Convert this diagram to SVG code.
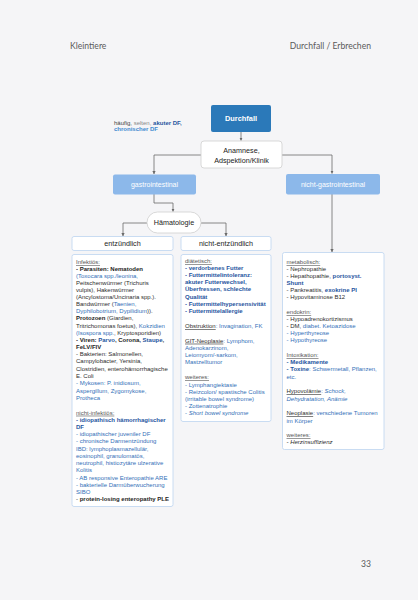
<svg xmlns="http://www.w3.org/2000/svg" width="418" height="600" viewBox="0 0 418 600">
<style>
text{font-family:"Liberation Sans",Arial,sans-serif;}
.pg{font-family:Lato,"Open Sans",sans-serif;font-size:8.6px;fill:#5a5a5a;}
.t{font-size:6px;fill:#2e2e2e;}
.lbl{font-size:7.2px;fill:#222;text-anchor:middle;}
.wl{font-size:7px;fill:#ffffff;text-anchor:middle;}
.h{fill:#555;text-decoration:underline;}
.u{text-decoration:underline;}
.b{font-weight:bold;fill:#1e1e1e;}
.bl{fill:#3370b8;}
.bb{fill:#1f55a0;font-weight:bold;}
.lb{fill:#3f8ad0;font-weight:bold;}
.i{font-style:italic;}
.g{fill:#666;}
.box{fill:#ffffff;stroke:#bcd4f0;stroke-width:0.8;}
.gbox{fill:#ffffff;stroke:#cfcfcf;stroke-width:0.8;}
.lblue{fill:#8cb8ea;}
.con{fill:none;stroke:#6a6a6a;stroke-width:0.8;marker-end:url(#ah);}
</style>
<defs>
<marker id="ah" viewBox="0 0 6 6" refX="5.5" refY="3" markerWidth="4" markerHeight="4" orient="auto">
<path d="M0,0 L6,3 L0,6 z" fill="#6a6a6a"/>
</marker>
</defs>
<rect x="0" y="0" width="418" height="600" fill="#f5f5f7"/>

<g id="header">
<text class="pg" x="70" y="49">Kleintiere</text>
<text class="pg" x="371" y="49" text-anchor="end">Durchfall / Erbrechen</text>
<text class="pg" x="371" y="567" text-anchor="end">33</text>
</g>

<g id="legend">
<text class="t" x="114" y="124.5"><tspan fill="#444">häufig, </tspan><tspan fill="#888">selten, </tspan><tspan class="bb">akuter DF,</tspan></text>
<text class="t" x="114" y="131"><tspan class="lb">chronischer DF</tspan></text>
</g>

<g id="connectors">
<path class="con" d="M241,132 V140.5"/>
<path class="con" d="M201,155 H154 V174"/>
<path class="con" d="M282,155 H332 V173.5"/>
<path class="con" d="M154,194 V203 H173 V211.5"/>
<path class="con" d="M147,223 H123 V236"/>
<path class="con" d="M201,223 H226 V236"/>
<path class="con" d="M332,194 V252"/>
</g>

<g id="node-durchfall">
<rect x="211" y="105" width="60" height="27" rx="2" fill="#2b79b9"/>
<text x="241" y="121" font-size="7.4" font-weight="bold" fill="#ffffff" text-anchor="middle">Durchfall</text>
</g>

<g id="node-anamnese">
<rect class="gbox" x="201" y="141" width="81" height="27" rx="3"/>
<text class="lbl" x="241.5" y="153">Anamnese,</text>
<text class="lbl" x="241.5" y="163">Adspektion/Klinik</text>
</g>

<g id="node-gastro">
<rect class="lblue" x="113" y="174.5" width="83" height="20" rx="2"/>
<text class="wl" x="154.5" y="187">gastrointestinal</text>
</g>

<g id="node-nichtgastro">
<rect class="lblue" x="286" y="174" width="94" height="20.5" rx="2"/>
<text class="wl" x="333" y="186.5">nicht-gastrointestinal</text>
</g>

<g id="node-haematologie">
<rect class="gbox" x="147" y="212" width="54" height="21" rx="10.5"/>
<text class="lbl" x="174" y="225">Hämatologie</text>
</g>

<g id="node-entzuendlich">
<rect class="box" x="72" y="236.5" width="101" height="14" rx="2"/>
<text class="lbl" x="122.5" y="246.2">entzündlich</text>
</g>

<g id="node-nichtentzuendlich">
<rect class="box" x="181" y="236.5" width="90" height="14" rx="2"/>
<text class="lbl" x="226" y="246.2">nicht-entzündlich</text>
</g>

<g id="node-entz-details">
<rect class="box" x="72" y="254.5" width="101" height="252" rx="2"/>
<text class="t">
<tspan x="76" y="264.3" class="h">Infektiös:</tspan>
<tspan x="76" y="271" class="b">- Parasiten: Nematoden</tspan>
<tspan x="76" y="277.8" class="bl">(Toxocara spp./leonina,</tspan>
<tspan x="76" y="284.8">Peitschenwürmer (Trichuris</tspan>
<tspan x="76" y="291.8">vulpis), Hakenwürmer</tspan>
<tspan x="76" y="298.8">(Ancylostoma/Uncinaria spp.).</tspan>
<tspan x="76" y="306">Bandwürmer (</tspan><tspan class="bl">Taenien,</tspan>
<tspan x="76" y="313.3" class="bl">Dyphilobotrium, Dypilidium</tspan><tspan>)).</tspan>
<tspan x="76" y="320.4" class="b">Protozoen</tspan><tspan> (Giardien,</tspan>
<tspan x="76" y="327.7">Tritrichomonas foetus), </tspan><tspan class="bl">Kokzidien</tspan>
<tspan x="76" y="334.8" class="bl">(Isospora spp.</tspan><tspan>, Kryptosporidien)</tspan>
<tspan x="76" y="342" class="b">- Viren: </tspan><tspan class="bb">Parvo</tspan><tspan class="b">, Corona, </tspan><tspan class="bb">Staupe</tspan><tspan class="b">,</tspan>
<tspan x="76" y="349" class="b">FeLV/FIV</tspan>
<tspan x="76" y="356.3">- Bakterien: Salmonellen,</tspan>
<tspan x="76" y="363.4">Campylobacter, Yersinia,</tspan>
<tspan x="76" y="370.7">Clostridien, enterohämorrhagische</tspan>
<tspan x="76" y="377.8">E. Coli</tspan>
<tspan x="76" y="385.3" class="bl">- Mykosen: P. inidiosum,</tspan>
<tspan x="76" y="392.7" class="bl">Aspergillum, Zygomykose,</tspan>
<tspan x="76" y="400" class="bl">Protheca</tspan>
<tspan x="76" y="414.7" class="h">nicht-infektiös:</tspan>
<tspan x="76" y="422" class="bb">- idiopathisch hämorrhagischer</tspan>
<tspan x="76" y="429" class="bb">DF</tspan>
<tspan x="76" y="436.3" class="bl">- idiopathischer juveniler DF</tspan>
<tspan x="76" y="443.4" class="bl">- chronische Darmentzündung</tspan>
<tspan x="76" y="450.7" class="bl">IBD: lymphoplasmazellulär,</tspan>
<tspan x="76" y="458" class="bl">eosinophil, granulomatös,</tspan>
<tspan x="76" y="465.3" class="bl">neutrophil, histiozytäre ulzerative</tspan>
<tspan x="76" y="472.4" class="bl">Kolitis</tspan>
<tspan x="76" y="479.7" class="bl">- AB responsive Enteropathie ARE</tspan>
<tspan x="76" y="487" class="bl">- bakterielle Darmüberwucherung</tspan>
<tspan x="76" y="494" class="bl">SIBO</tspan>
<tspan x="76" y="501.3">- </tspan><tspan class="b">protein-losing enteropathy PLE</tspan>
</text>
</g>

<g id="node-nichtentz-details">
<rect class="box" x="181" y="254.5" width="90" height="167" rx="2"/>
<text class="t">
<tspan x="185" y="263.2" class="h">diätetisch:</tspan>
<tspan x="185" y="270.2" class="bb">- verdorbenes Futter</tspan>
<tspan x="185" y="277.2" class="bb">- Futtermittelintoleranz:</tspan>
<tspan x="185" y="284.4" class="bb">akuter Futterwechsel,</tspan>
<tspan x="185" y="291.4" class="bb">Überfressen, schlechte</tspan>
<tspan x="185" y="298.7" class="bb">Qualität</tspan>
<tspan x="185" y="306" class="bb">- Futtermittelhypersensivität</tspan>
<tspan x="185" y="313.3" class="bb">- Futtermittelallergie</tspan>
<tspan x="185" y="328" class="u">Obstruktion</tspan><tspan class="bl">: Invagination, FK</tspan>
<tspan x="185" y="342.7" class="u">GIT-Neoplasie</tspan><tspan class="bl">: Lymphom,</tspan>
<tspan x="185" y="350" class="bl">Adenokarzinom,</tspan>
<tspan x="185" y="357.3" class="bl">Leiomyom/-sarkom,</tspan>
<tspan x="185" y="364.4" class="bl">Mastzelltumor</tspan>
<tspan x="185" y="379" class="h">weiteres:</tspan>
<tspan x="185" y="386.5" class="bl">- Lymphangiektasie</tspan>
<tspan x="185" y="393.7" class="bl">- Reizcolon/ spastische Colitis</tspan>
<tspan x="185" y="400.8" class="bl">(irritable bowel syndrome)</tspan>
<tspan x="185" y="408" class="bl">- Zottenatrophie</tspan>
<tspan x="185" y="415.3" class="bl">- </tspan><tspan class="bl i">Short bowel syndrome</tspan>
</text>
</g>

<g id="node-nichtgastro-details">
<rect class="box" x="282.5" y="252.5" width="101.5" height="197" rx="2"/>
<text class="t">
<tspan x="286.5" y="264.3" class="h">metabolisch:</tspan>
<tspan x="286.5" y="271">- Nephropathie</tspan>
<tspan x="286.5" y="278">- Hepathopathie, </tspan><tspan class="bb">portosyst.</tspan>
<tspan x="286.5" y="285" class="bb">Shunt</tspan>
<tspan x="286.5" y="292.3">- Pankreatitis, </tspan><tspan class="bb">exokrine PI</tspan>
<tspan x="286.5" y="299.3">- Hypovitaminose B12</tspan>
<tspan x="286.5" y="314.3" class="h">endokrin:</tspan>
<tspan x="286.5" y="321.3">- Hypoadrenokortizismus</tspan>
<tspan x="286.5" y="328.3">- DM, </tspan><tspan class="bl">diabet. Ketoazidose</tspan>
<tspan x="286.5" y="335.3" class="bl">- Hyperthyreose</tspan>
<tspan x="286.5" y="342.3" class="bl">- Hypothyreose</tspan>
<tspan x="286.5" y="357.3" class="h">Intoxikation:</tspan>
<tspan x="286.5" y="364.3" class="bb">- Medikamente</tspan>
<tspan x="286.5" y="371.3" class="bb">- Toxine</tspan><tspan class="bl">: Schwermetall, Pflanzen,</tspan>
<tspan x="286.5" y="378.7" class="bl">etc.</tspan>
<tspan x="286.5" y="393.3" class="u">Hypovolämie</tspan><tspan class="bl">: </tspan><tspan class="bl i">Schock,</tspan>
<tspan x="286.5" y="400.7" class="bl i">Dehydratation, Anämie</tspan>
<tspan x="286.5" y="415.3" class="u">Neoplasie</tspan><tspan class="bl">: verschiedene Tumoren</tspan>
<tspan x="286.5" y="422.7" class="bl">im Körper</tspan>
<tspan x="286.5" y="437" class="h">weiteres:</tspan>
<tspan x="286.5" y="444" class="i">- Herzinsuffizienz</tspan>
</text>
</g>
</svg>
